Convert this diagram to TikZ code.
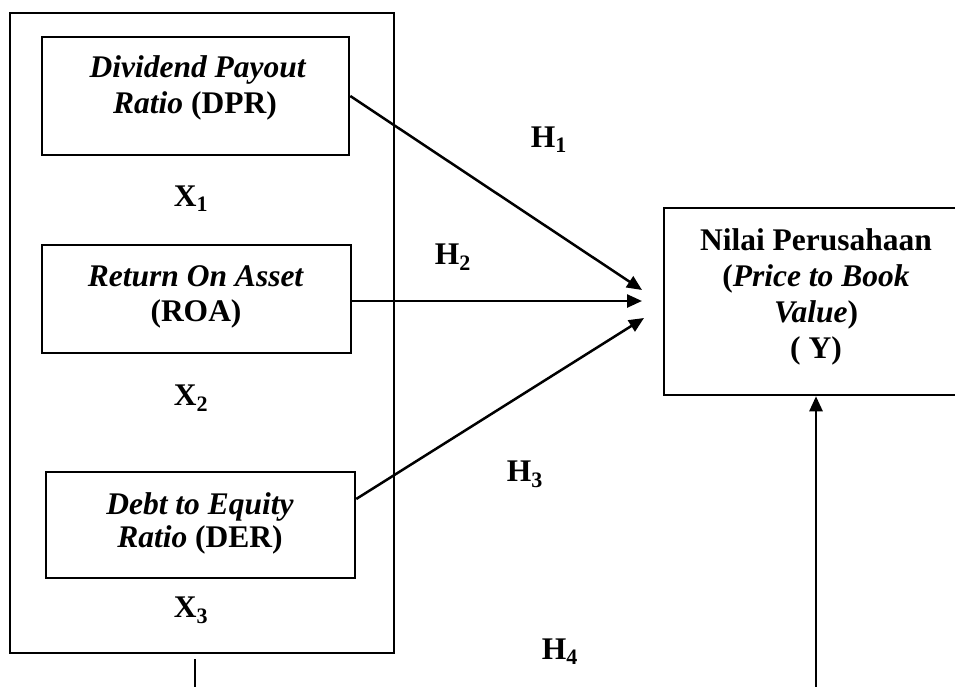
\documentclass[tikz,border=0pt]{standalone}
\usepackage{fontspec}
\setmainfont{Liberation Serif}
\usetikzlibrary{arrows.meta,calc}
\begin{document}
\begin{tikzpicture}[x=1pt,y=-1pt, line width=2.5pt,
  box/.style={draw, rectangle, inner sep=0pt},
  txt/.style={anchor=base, inner sep=0pt, font=\fontsize{31.5}{36}\selectfont\bfseries},
  arr/.style={-{Triangle[length=15pt,width=13pt]}}]
\useasboundingbox (0,0) rectangle (955,686);

% boxes
\node[box, minimum width=384pt, minimum height=640pt] (outer) at (202,333) {};
\node[box, minimum width=307pt, minimum height=118pt] (dpr) at (195.5,96) {};
\node[box, minimum width=309pt, minimum height=108pt] (roa) at (196.5,299) {};
\node[box, minimum width=309pt, minimum height=106pt] (der) at (200.5,525) {};
\node[box, minimum width=300pt, minimum height=187pt] (y) at (814,301.5) {};

% texts
\node[txt] (dpr1) at (198,77) {\textit{Dividend Payout}};
\node[txt] (dpr2) at (195,113) {\textit{Ratio} (DPR)};
\node[txt] (roa1) at (196,286) {\textit{Return On Asset}};
\node[txt] (roa2) at (196,321) {(ROA)};
\node[txt] (der1) at (200,514) {\textit{Debt to Equity}};
\node[txt] (der2) at (200,547) {\textit{Ratio} (DER)};
\node[txt] (y1) at (816,250) {Nilai Perusahaan};
\node[txt] (y2) at (816,286) {(\textit{Price to Book}};
\node[txt] (y3) at (816,322) {\textit{Value})};
\node[txt] (y4) at (816,358) {( Y)};

\node[txt] (x1) at (191,206) {X\textsubscript{1}};
\node[txt] (x2) at (191,405) {X\textsubscript{2}};
\node[txt] (x3) at (191,617) {X\textsubscript{3}};
\node[txt] (h1) at (549,147) {H\textsubscript{1}};
\node[txt] (h2) at (453,264) {H\textsubscript{2}};
\node[txt] (h3) at (525,481) {H\textsubscript{3}};
\node[txt] (h4) at (560,659) {H\textsubscript{4}};

% connectors
\coordinate (t1) at (642,290);
\coordinate (t2) at (642,301);
\coordinate (t3) at (644,318);
\coordinate (s3) at ($(der.north east)!0.26!(der.south east)$);
\coordinate (b4) at (816,690);
\coordinate (l1) at (195,659);
\coordinate (l2) at (195,690);

\draw[arr] (dpr.east) -- (t1);
\draw[arr] (roa.east |- t2) -- (t2);
\draw[arr] (s3) -- (t3);
\draw[arr] (b4) -- (b4 |- y.south);
\draw[line width=2pt] (l1) -- (l2);
\end{tikzpicture}
\end{document}
